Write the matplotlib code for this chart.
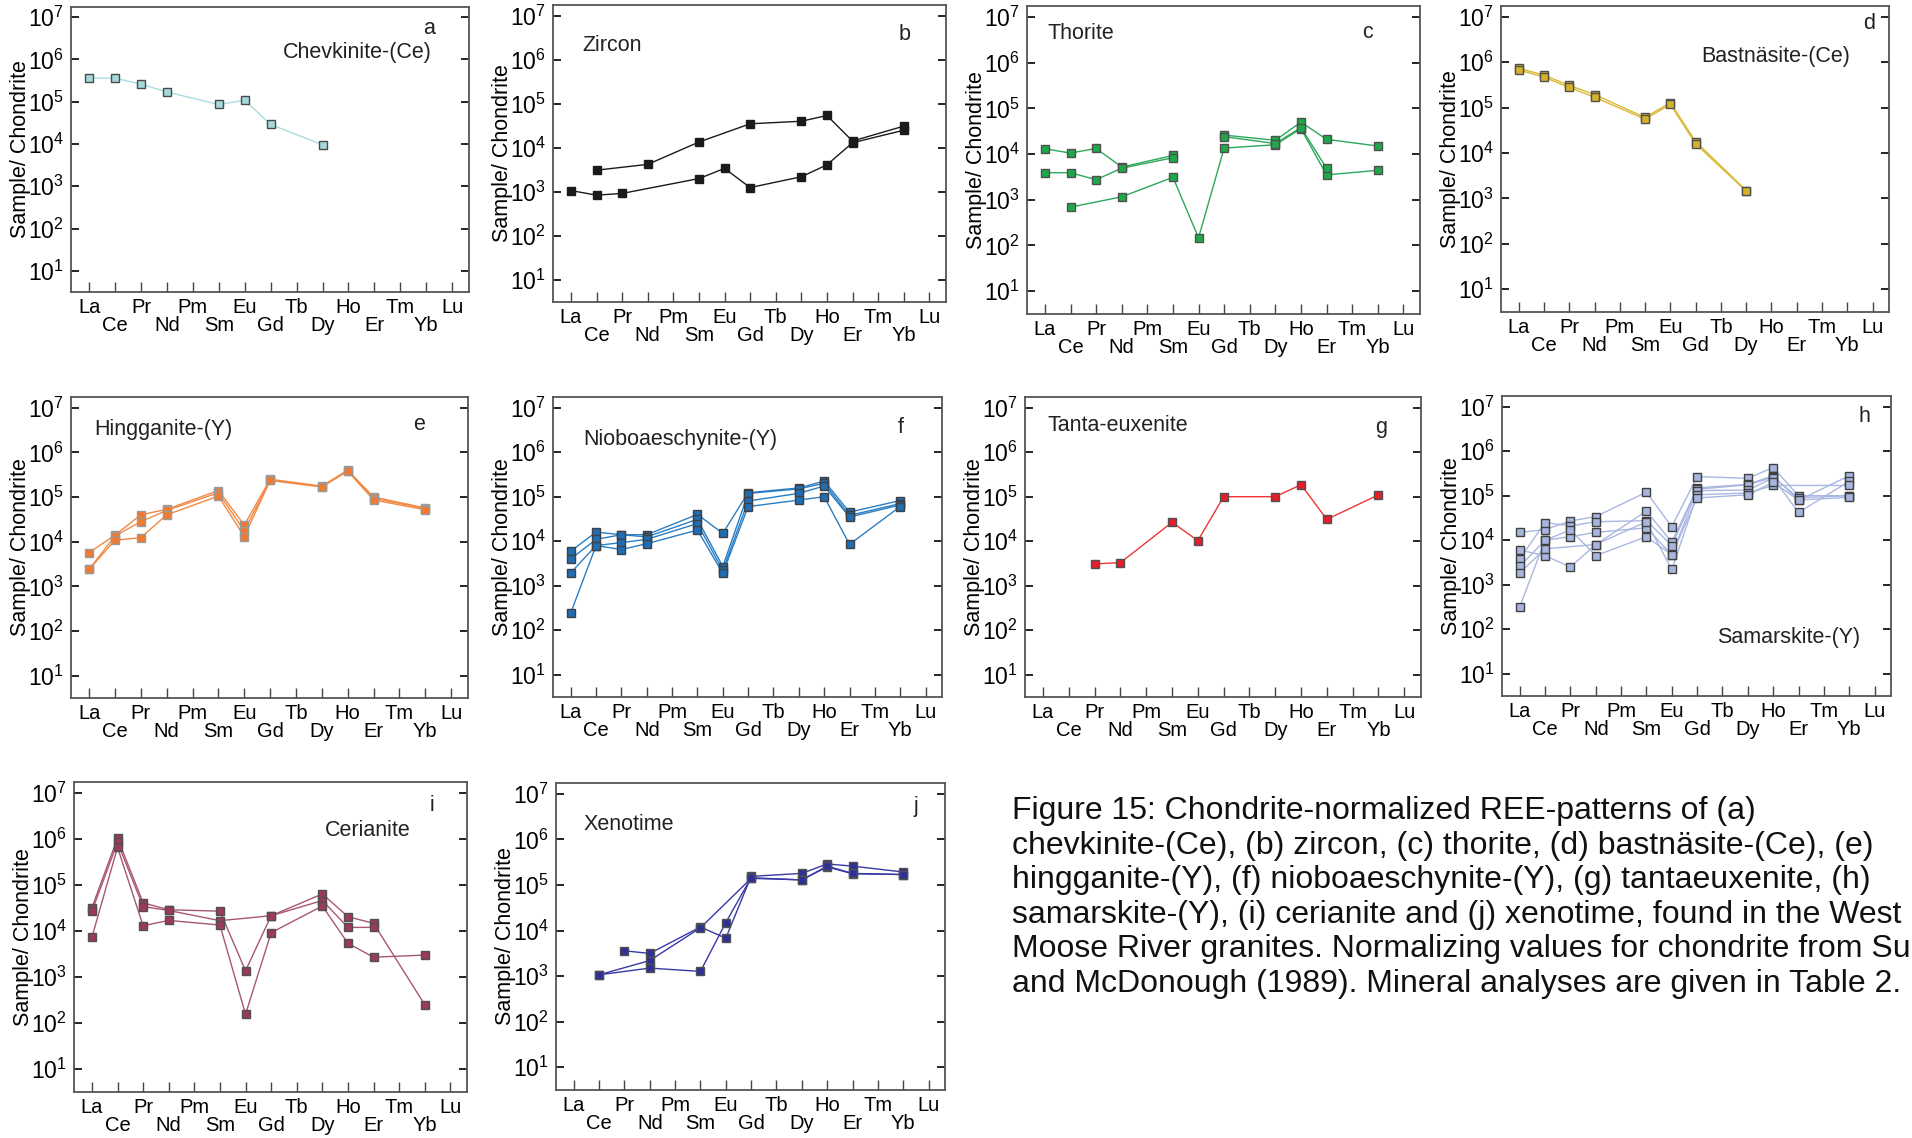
import numpy as np
import matplotlib
matplotlib.use('Agg')
import matplotlib.pyplot as plt

plt.rcParams['font.family'] = ['Liberation Sans', 'DejaVu Sans']

n = np.nan
ree = ['La', 'Ce', 'Pr', 'Nd', 'Pm', 'Sm', 'Eu', 'Gd', 'Tb', 'Dy', 'Ho', 'Er', 'Tm', 'Yb', 'Lu']

# chondrite-normalised values, one row per analysis (nan = not analysed)
chevkinite = [
    [3.6e5, 3.6e5, 2.6e5, 1.7e5, n, 8.6e4, 1.08e5, 2.9e4, n, 9.6e3, n, n, n, n, n]]

zircon = [
    [n, 3.1e3, n, 4.2e3, n, 1.35e4, n, 3.5e4, n, 4.0e4, 5.4e4, 1.42e4, n, 3.1e4, n],
    [1.07e3, 8.4e2, 9.2e2, n, n, 2.0e3, 3.4e3, 1.25e3, n, 2.2e3, 4.1e3, 1.3e4, n, 2.5e4, n]]

thorite = [
    [1.31e4, 1.05e4, 1.33e4, 5.2e3, n, 9.3e3, n, n, n, n, n, n, n, n, n],
    [3.9e3, 3.9e3, 2.75e3, 4.9e3, n, 8.3e3, n, n, n, n, n, n, n, n, n],
    [n, 6.9e2, n, 1.16e3, n, 3.1e3, 1.47e2, 1.35e4, n, 1.6e4, 3.6e4, 3.5e3, n, 4.4e3, n],
    [n, n, n, n, n, n, n, 2.6e4, n, 2.0e4, 5.0e4, 2.1e4, n, 1.5e4, n],
    [n, n, n, n, n, n, n, 2.4e4, n, 1.7e4, 3.8e4, 4.9e3, n, n, n]]

bastnasite = [
    [7.4e5, 5.2e5, 3.1e5, 1.95e5, n, 6.1e4, 1.29e5, 1.8e4, n, 1.5e3, n, n, n, n, n],
    [6.8e5, 4.7e5, 2.8e5, 1.7e5, n, 5.6e4, 1.18e5, 1.6e4, n, 1.45e3, n, n, n, n, n]]

hingganite = [
    [5.7e3, 1.4e4, 4.0e4, 5.3e4, n, 1.4e5, 2.35e4, 2.5e5, n, 1.76e5, 4.0e5, 1.0e5, n, 5.7e4, n],
    [2.4e3, 1.35e4, 2.8e4, 5.0e4, n, 1.25e5, 1.75e4, 2.4e5, n, 1.7e5, 3.9e5, 9.4e4, n, 5.5e4, n],
    [2.4e3, 1.08e4, 1.23e4, 4.0e4, n, 1.05e5, 1.3e4, 2.35e5, n, 1.68e5, 3.8e5, 8.6e4, n, 5.2e4, n]]

nioboaeschynite = [
    [6.0e3, 1.6e4, 1.4e4, 1.4e4, n, 4.0e4, 1.5e4, 1.23e5, n, 1.57e5, 2.25e5, 4.5e4, n, 8.2e4, n],
    [4.0e3, 1.1e4, 1.4e4, 1.25e4, n, 3.1e4, 2.7e3, 1.18e5, n, 1.5e5, 2.0e5, 3.8e4, n, 7.0e4, n],
    [1.95e3, 8.0e3, 9.3e3, 1.1e4, n, 2.5e4, 2.2e3, 8.0e4, n, 1.19e5, 1.74e5, 3.5e4, n, 6.5e4, n],
    [2.45e2, 8.0e3, 6.5e3, 8.8e3, n, 1.78e4, 1.9e3, 6.0e4, n, 8.4e4, 1.0e5, 8.5e3, n, 6.0e4, n]]

tantaeuxenite = [
    [n, n, 3.1e3, 3.3e3, n, 2.66e4, 1.03e4, 1.0e5, n, 1.0e5, 1.86e5, 3.1e4, n, 1.1e5, n]]

samarskite = [
    [1.5e4, 1.73e4, 2.7e4, 3.4e4, n, 1.2e5, 2.0e4, 2.7e5, n, 2.45e5, 4.3e5, 1.0e5, n, 1.0e5, n],
    [6.0e3, 4.5e3, 2.5e3, 8.0e3, n, 4.5e4, 9.0e3, 1.5e5, n, 1.8e5, 2.8e5, 7.9e4, n, 2.8e5, n],
    [3.8e3, 2.5e4, 2.1e4, 2.6e4, n, 2.75e4, 7.6e3, 1.4e5, n, 1.75e5, 2.6e5, 9.0e4, n, 1.0e5, n],
    [2.6e3, 1.0e4, 1.2e4, 1.5e4, n, 1.9e4, 4.7e3, 1.3e5, n, 1.34e5, 2.5e5, 4.2e4, n, 2.1e5, n],
    [1.85e3, 6.4e3, n, 8.0e3, n, 2.6e4, 2.2e3, 1.05e5, n, 1.15e5, 1.7e5, n, n, 1.7e5, n],
    [3.2e2, 1.0e4, 1.7e4, 4.5e3, n, 1.2e4, 4.7e3, 8.9e4, n, 1.05e5, 2.0e5, 8.0e4, n, 9.2e4, n]]

cerianite = [
    [3.2e4, 1.05e6, 4.1e4, 2.9e4, n, 2.7e4, 1.37e3, 2.15e4, n, 6.4e4, 2.05e4, 1.47e4, n, 2.5e2, n],
    [2.7e4, 8.5e5, 3.4e4, 2.8e4, n, 1.68e4, n, 2.15e4, n, 4.6e4, 1.2e4, 1.2e4, n, n, n],
    [7.3e3, 6.6e5, 1.3e4, 1.7e4, n, 1.35e4, 1.55e2, 9.2e3, n, 3.5e4, 5.4e3, 2.7e3, n, 3.0e3, n]]

xenotime = [
    [n, n, 3.6e3, 3.15e3, n, 1.2e4, 6.8e3, 1.55e5, n, 1.8e5, 2.9e5, 2.6e5, n, 1.93e5, n],
    [n, 1.07e3, n, 2.2e3, n, 1.15e4, n, 1.4e5, n, 1.3e5, 2.5e5, 1.77e5, n, 1.7e5, n],
    [n, 1.07e3, n, 1.5e3, n, 1.27e3, 1.5e4, 1.45e5, n, 1.29e5, 2.6e5, 1.8e5, n, 1.7e5, n]]

names = ['Chevkinite-(Ce)', 'Zircon', 'Thorite', 'Bastnäsite-(Ce)', 'Hingganite-(Y)',
         'Nioboaeschynite-(Y)', 'Tanta-euxenite', 'Samarskite-(Y)', 'Cerianite', 'Xenotime']
letters = ['a', 'b', 'c', 'd', 'e', 'f', 'g', 'h', 'i', 'j']
datasets = [chevkinite, zircon, thorite, bastnasite, hingganite,
            nioboaeschynite, tantaeuxenite, samarskite, cerianite, xenotime]

# marker fill, line colour, marker edge
fills = ['#a6d9dc', '#1a1a1a', '#1fa84a', '#d4b22a', '#f27a2e',
         '#1f6db5', '#e41e2b', '#a7b5df', '#9b3a5a', '#2f2f98']
lines = ['#a9dde0', '#1a1a1a', '#2ca85a', '#d9b935', '#f28a45',
         '#2b7ec4', '#ef3535', '#a9b7e2', '#a8576f', '#3939a6']
edges = ['#4a4a4a', '#1a1a1a', '#505050', '#505050', '#9a9a9a',
         '#404040', '#505050', '#404040', '#505050', '#505050']

# axes boxes in pixels: left, top, right, bottom
boxes = [(71, 7, 469, 292), (553, 5, 946, 302), (1027, 6, 1420, 314), (1501, 6, 1889, 312),
         (71, 397, 468, 698), (553, 397, 942, 697), (1025, 397, 1421, 697), (1502, 396, 1891, 696),
         (74, 782, 467, 1092), (556, 783, 945, 1090)]

# name label: x, y, ha ; letter: x, y
name_pos = [(0.72, 0.842, 'center'), (0.075, 0.865, 'left'), (0.053, 0.912, 'left'),
            (0.709, 0.834, 'center'), (0.058, 0.893, 'left'), (0.078, 0.86, 'left'),
            (0.058, 0.904, 'left'), (0.738, 0.196, 'center'), (0.748, 0.845, 'center'),
            (0.072, 0.866, 'left')]
letter_pos = [(0.90, 0.926), (0.894, 0.90), (0.867, 0.915), (0.948, 0.944), (0.877, 0.909),
              (0.893, 0.897), (0.90, 0.898), (0.932, 0.932), (0.91, 0.923), (0.925, 0.925)]

W, H = 1912, 1138
fig = plt.figure(figsize=(W / 100, H / 100), dpi=100)

x = np.arange(len(ree))
upper = x[0::2]   # La, Pr, Pm ... on the first label row
lower = x[1::2]   # Ce, Nd, Sm ... on the second row

for k in range(10):
    l, t, r, b = boxes[k]
    ax = fig.add_axes([l / W, 1 - b / H, (r - l) / W, (b - t) / H])
    for row in datasets[k]:
        y = np.array(row, dtype=float)
        m = np.isfinite(y)
        ax.plot(x[m], y[m], '-', color=lines[k], lw=1.0, zorder=2)
        ax.plot(x[m], y[m], 's', ms=5.8, mfc=fills[k], mec=edges[k], mew=1.0, zorder=3)

    ax.set_yscale('log')
    ax.set_ylim(10 ** 0.5, 10 ** 7.24)
    ax.set_xlim(-0.7, 14.65)
    ax.set_yticks([10.0 ** p for p in range(1, 8)])
    ax.set_xticks(upper)
    ax.set_xticklabels(ree[0::2], fontsize=14.5)
    ax.set_xticks(lower, minor=True)
    ax.set_xticklabels(ree[1::2], minor=True, fontsize=14.5)
    ax.tick_params(axis='x', which='major', direction='in', length=7, width=1,
                   color='#444444', pad=4, top=False)
    ax.tick_params(axis='x', which='minor', direction='in', length=7, width=1,
                   color='#444444', pad=17, top=False)
    ax.tick_params(axis='y', which='major', direction='in', length=6, width=1.2,
                   left=True, right=True, labelsize=16.5, pad=5)
    ax.tick_params(axis='y', which='minor', direction='in', length=3, width=0.8,
                   left=True, right=True)
    for s in ax.spines.values():
        s.set_color('#555555')
        s.set_linewidth(1.3)
    ax.set_ylabel('Sample/ Chondrite', fontsize=15.5)
    ax.yaxis.set_label_coords(-40 / (r - l), 0.5)

    nx, ny, ha = name_pos[k]
    ax.text(nx, ny, names[k], transform=ax.transAxes, fontsize=15.5, ha=ha, va='center',
            color='#222222')
    lx, ly = letter_pos[k]
    ax.text(lx, ly, letters[k], transform=ax.transAxes, fontsize=15.5, ha='center', va='center',
            color='#222222')

caption = ("Figure 15: Chondrite-normalized REE-patterns of (a)\n"
           "chevkinite-(Ce), (b) zircon, (c) thorite, (d) bastnäsite-(Ce), (e)\n"
           "hingganite-(Y), (f) nioboaeschynite-(Y), (g) tantaeuxenite, (h)\n"
           "samarskite-(Y), (i) cerianite and (j) xenotime, found in the West\n"
           "Moose River granites. Normalizing values for chondrite from Sun\n"
           "and McDonough (1989). Mineral analyses are given in Table 2.")
fig.text(1012 / W, 1 - 796 / H, caption, fontsize=23, ha='left', va='top',
         linespacing=1.2, color='#111111')

fig.savefig('out.png', dpi=100)
